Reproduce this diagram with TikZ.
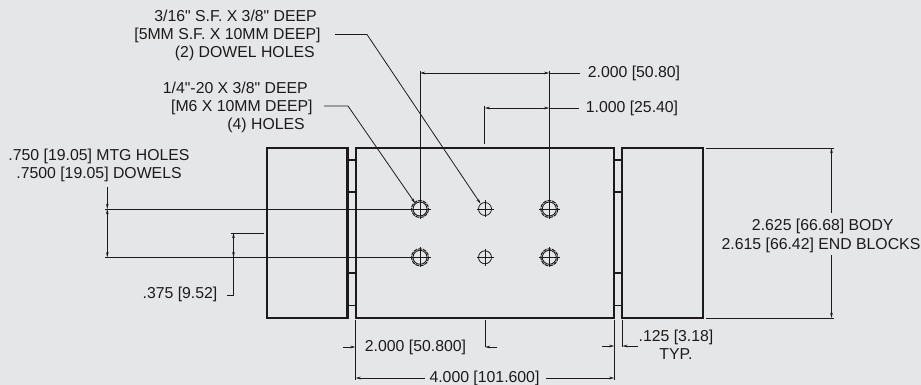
\documentclass[tikz,border=0pt]{standalone}
\usepackage{fontspec}
\usetikzlibrary{arrows.meta}
\newfontfamily\dimfont{Liberation Sans}
\definecolor{sheet}{HTML}{E5E6E8}
\definecolor{ink}{HTML}{1C1A1B}
\tikzset{
  block/.style={draw=ink,line width=1.2pt,minimum height=3.4cm,inner sep=0pt},
  web/.style={draw=ink,line width=1pt},
  thin line/.style={draw=ink,line width=0.45pt},
  dimtip/.style={thin line,{Stealth[length=3pt,width=1.5pt]}-{Stealth[length=3pt,width=1.5pt]}},
  endtip/.style={thin line,-{Stealth[length=3pt,width=1.5pt]}},
  note/.style={font=\fontsize{9}{10.4}\dimfont,text=ink,inner sep=0pt,align=center},
  bigbore/.style={circle,draw=ink,line width=0.5pt,minimum size=0.28cm,inner sep=0pt},
  smallbore/.style={circle,draw=ink,line width=0.45pt,minimum size=0.26cm,inner sep=0pt}
}
\begin{document}
\begin{tikzpicture}[x=0.02cm,y=-0.02cm]

\fill[sheet] (0,0) rectangle (921,385);
\useasboundingbox (0,0) rectangle (921,385);

% blocks
\node (lblock) at (307.3,233)[block,minimum width=1.61cm]{};
\node (body) at (484.9,233)[block,minimum width=5.17cm]{};
\node (rblock) at (662.5,233)[block,minimum width=1.61cm]{};

\foreach \y in {160,192,273,305.5}
{
\draw[web] (lblock.east |- 0,\y) -- (body.west |- 0,\y);
\draw[web] (body.east |- 0,\y) -- (rblock.west |- 0,\y);
}

% holes
\foreach \n/\x/\y in {a/420/209,b/549.3/209,c/420/257.3,d/549.3/257.3}
{
\node (h\n) at (\x,\y)[bigbore]{};
\draw[thin line,dash pattern=on 2.2pt off 0.5pt,line width=0.6pt] (h\n.center) circle (8.5);
\draw[thin line] (\x-10.5,\y) -- (\x+10.5,\y) (\x,\y-10) -- (\x,\y+10);
}
\foreach \n/\x/\y in {e/485/209,f/485/257.3}
{
\node (h\n) at (\x,\y)[smallbore]{};
\draw[thin line] (\x-8.5,\y) -- (\x+8.5,\y) (\x,\y-8.5) -- (\x,\y+8.5);
}

% top notes
\node (dowelnote) at (321,35.5)[note,anchor=east,align=right]{3/16" S.F. X 3/8" DEEP\hspace*{2.2pt}\\{}[5MM S.F. X 10MM DEEP]\\(2) DOWEL HOLES\hspace*{3.4pt}};
\node (tapnote) at (313,107.5)[note,anchor=east,align=right]{1/4"-20 X 3/8" DEEP\hspace*{2.8pt}\\{}[M6 X 10MM DEEP]\\(4) HOLES\hspace*{4.5pt}};
\coordinate (dowelbend) at (367,34.5);
\coordinate (dowelstart) at (335,34.5);
\coordinate (tapbend) at (348,106);
\coordinate (tapstart) at (324,106);
\draw[endtip] (dowelstart) -- (dowelbend) -- (he.130);
\draw[endtip] (tapstart) -- (tapbend) -- (ha.130);

% top dimensions
\node (widea) at (634,73)[note]{2.000 [50.80]};
\node (wideb) at (632,108.5)[note]{1.000 [25.40]};
\coordinate (wa) at (420,71);
\coordinate (wb) at (549.3,71);
\coordinate (wc) at (484.7,106);
\coordinate (wd) at (484.7,144);
\coordinate (we) at (580,73);
\coordinate (wf) at (579,108);
\draw[thin line] (wa) -- (ha.north);
\draw[thin line] (wb) -- (hb.center);
\draw[thin line] (wc) -- (wd);
\draw[dimtip] (wa |- we) -- (wb |- we);
\draw[thin line] (wb |- we) -- (we);
\draw[dimtip] (wc |- wf) -- (wb |- wf);
\draw[thin line] (wb |- wf) -- (wf);

% left dimensions
\node (mtgnote) at (99,165.5)[note]{.750 [19.05] MTG HOLES\\.7500 [19.05] DOWELS};
\node (halfnote) at (180,294)[note]{.375 [9.52]};
\coordinate (la) at (105,209);
\coordinate (lb) at (105,257.3);
\coordinate (lc) at (107.3,187);
\coordinate (ld) at (231,233);
\coordinate (le) at (264,233);
\coordinate (lf) at (233.5,295);
\coordinate (lg) at (227,295);
\draw[thin line] (la) -- (ha.west);
\draw[thin line] (lb) -- (hc.west);
\draw[endtip] (lc) -- (lc |- la);
\draw[dimtip] (lc |- la) -- (lc |- lb);
\draw[thin line] (ld) -- (le);
\draw[endtip] (lg) -- (lf) -- (lf |- ld);
\draw[endtip] (lf |- ld) -- (lf |- lb);

% bottom dimensions
\node (halfspan) at (415.5,347.5)[note]{2.000 [50.800]};
\node (fullspan) at (484.5,378)[note]{4.000 [101.600]};
\node (webnote) at (676,345)[note]{.125 [3.18]\\TYP.};
\coordinate (ba) at (355.5,320);
\coordinate (bb) at (355.5,380);
\coordinate (bc) at (485,320);
\coordinate (bd) at (485,347);
\coordinate (be) at (614.3,320);
\coordinate (bf) at (614.3,380);
\coordinate (bg) at (622.3,320);
\coordinate (bh) at (622.3,347);
\coordinate (bi) at (425,378);
\coordinate (bj) at (546,378);
\draw[thin line] (ba) -- (bb);
\draw[thin line] (bc) -- (bd);
\draw[thin line] (be) -- (bf);
\draw[thin line] (bg) -- (bh);
\coordinate (ta) at (343,347);
\coordinate (tb) at (497,347);
\coordinate (tc) at (602,346);
\coordinate (td) at (638,346);
\draw[endtip] (ta) -- (ba |- ta);
\draw[endtip] (tb) -- (bd);
\draw[endtip] (tc) -- (be |- tc);
\draw[endtip] (td) -- (bg |- td);
\draw[endtip] (bi) -- (bb |- bi);
\draw[endtip] (bj) -- (bf |- bj);

% right dimension
\node (heightnote) at (821,236)[note]{2.625 [66.68] BODY\hspace*{-2pt}\\2.615 [66.42] END BLOCKS};
\coordinate (ra) at (706,148);
\coordinate (rb) at (834,148);
\coordinate (rc) at (706,318);
\coordinate (rd) at (834,318);
\coordinate (re) at (831.5,213);
\coordinate (rf) at (831.5,255);
\draw[thin line] (ra) -- (rb);
\draw[thin line] (rc) -- (rd);
\draw[endtip] (re) -- (re |- ra);
\draw[endtip] (rf) -- (rf |- rc);

\end{tikzpicture}
\end{document}
